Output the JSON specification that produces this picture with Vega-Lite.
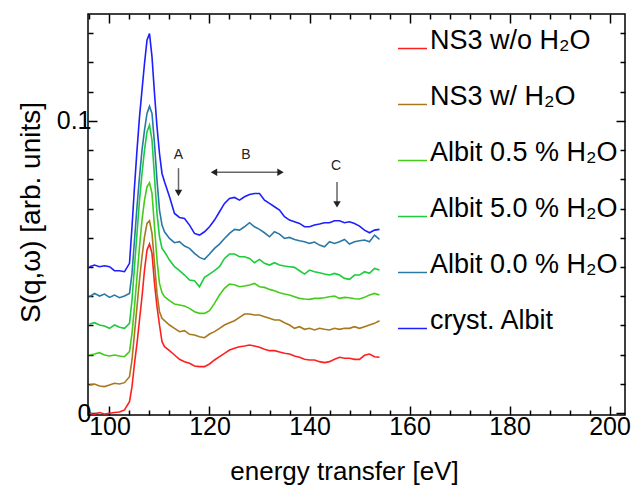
{
  "$schema": "https://vega.github.io/schema/vega-lite/v6.json",
  "width": 537,
  "height": 401,
  "autosize": "none",
  "padding": {"left": 88, "top": 14, "right": 18, "bottom": 75},
  "background": "white",
  "config": {
    "view": {"stroke": "black", "strokeWidth": 1.5},
    "font": "Liberation Sans"
  },
  "datasets": {
    "curves": [
      {"E":96,"a":0.0,"b":0.00966,"c":0.01992,"d":0.03051,"e":0.03984,"f":0.0501},
      {"E":97,"a":-0.00034,"b":0.01001,"c":0.02026,"d":0.03096,"e":0.04098,"f":0.05067},
      {"E":98,"a":0.00023,"b":0.00932,"c":0.02071,"d":0.03017,"e":0.04007,"f":0.0501},
      {"E":99,"a":-0.00023,"b":0.0091,"c":0.01992,"d":0.02982,"e":0.04076,"f":0.05044},
      {"E":100,"a":0.0,"b":0.00966,"c":0.01957,"d":0.02903,"e":0.03962,"f":0.0501},
      {"E":101,"a":0.00023,"b":0.01023,"c":0.01992,"d":0.03017,"e":0.04041,"f":0.04873},
      {"E":102,"a":0.00045,"b":0.01001,"c":0.01957,"d":0.02937,"e":0.0395,"f":0.04873},
      {"E":103,"a":0.00113,"b":0.01046,"c":0.01934,"d":0.02903,"e":0.04007,"f":0.04839},
      {"E":104,"a":0.00397,"b":0.01251,"c":0.02105,"d":0.03073,"e":0.04098,"f":0.05124},
      {"E":104.5,"a":0.0091,"b":0.01821,"c":0.02732,"d":0.03871,"e":0.04782,"f":0.06376},
      {"E":105,"a":0.01707,"b":0.02732,"c":0.03643,"d":0.0501,"e":0.05921,"f":0.07743},
      {"E":105.5,"a":0.0239,"b":0.03643,"c":0.04668,"d":0.06148,"e":0.07059,"f":0.08995},
      {"E":106,"a":0.03187,"b":0.04554,"c":0.05693,"d":0.07287,"e":0.08084,"f":0.10134},
      {"E":106.5,"a":0.03984,"b":0.05351,"c":0.06604,"d":0.08198,"e":0.08995,"f":0.11045},
      {"E":107,"a":0.04896,"b":0.06034,"c":0.07287,"d":0.08995,"e":0.09679,"f":0.11956},
      {"E":107.5,"a":0.05579,"b":0.0649,"c":0.07743,"d":0.09622,"e":0.10248,"f":0.12753},
      {"E":108,"a":0.05784,"b":0.06581,"c":0.07879,"d":0.09849,"e":0.10499,"f":0.12981},
      {"E":108.5,"a":0.05465,"b":0.06148,"c":0.07515,"d":0.09337,"e":0.10248,"f":0.12184},
      {"E":109,"a":0.0444,"b":0.05124,"c":0.06376,"d":0.08084,"e":0.09223,"f":0.10931},
      {"E":109.5,"a":0.03643,"b":0.04098,"c":0.05237,"d":0.06832,"e":0.0797,"f":0.09793},
      {"E":110,"a":0.03017,"b":0.03472,"c":0.0444,"d":0.06034,"e":0.06946,"f":0.08881},
      {"E":110.5,"a":0.02447,"b":0.03244,"c":0.04121,"d":0.05636,"e":0.06433,"f":0.08198},
      {"E":111,"a":0.02276,"b":0.03165,"c":0.03984,"d":0.05522,"e":0.06205,"f":0.07913},
      {"E":112,"a":0.0214,"b":0.03017,"c":0.03848,"d":0.05237,"e":0.05977,"f":0.07401},
      {"E":113,"a":0.01992,"b":0.02903,"c":0.03734,"d":0.0501,"e":0.0583,"f":0.06832},
      {"E":114,"a":0.01843,"b":0.02789,"c":0.037,"d":0.04873,"e":0.05864,"f":0.06695},
      {"E":115,"a":0.01764,"b":0.02823,"c":0.03666,"d":0.04725,"e":0.05716,"f":0.06661},
      {"E":116,"a":0.01707,"b":0.02698,"c":0.03586,"d":0.04554,"e":0.05636,"f":0.06433},
      {"E":117,"a":0.01616,"b":0.02675,"c":0.03472,"d":0.04531,"e":0.05465,"f":0.06148},
      {"E":118,"a":0.01593,"b":0.02618,"c":0.03415,"d":0.04326,"e":0.05328,"f":0.06091},
      {"E":119,"a":0.01593,"b":0.02584,"c":0.03415,"d":0.04645,"e":0.0526,"f":0.06205},
      {"E":120,"a":0.01684,"b":0.02709,"c":0.03506,"d":0.04759,"e":0.05442,"f":0.06376},
      {"E":121,"a":0.01821,"b":0.02789,"c":0.03757,"d":0.04873,"e":0.05636,"f":0.06604},
      {"E":122,"a":0.01934,"b":0.02903,"c":0.04041,"d":0.0501,"e":0.05784,"f":0.06888},
      {"E":123,"a":0.02049,"b":0.03017,"c":0.04269,"d":0.05294,"e":0.05977,"f":0.07173},
      {"E":124,"a":0.02162,"b":0.03096,"c":0.04417,"d":0.05442,"e":0.06148,"f":0.07344},
      {"E":125,"a":0.02219,"b":0.03165,"c":0.04395,"d":0.05442,"e":0.06285,"f":0.07378},
      {"E":126,"a":0.02276,"b":0.03278,"c":0.04326,"d":0.05351,"e":0.06262,"f":0.07287},
      {"E":127,"a":0.02299,"b":0.03393,"c":0.04349,"d":0.05351,"e":0.06376,"f":0.07401},
      {"E":128,"a":0.02333,"b":0.03393,"c":0.04383,"d":0.05294,"e":0.06513,"f":0.07481},
      {"E":129,"a":0.02299,"b":0.03358,"c":0.0444,"d":0.05146,"e":0.06376,"f":0.07515},
      {"E":130,"a":0.02253,"b":0.03358,"c":0.04326,"d":0.0526,"e":0.06285,"f":0.07515},
      {"E":131,"a":0.02185,"b":0.03301,"c":0.04303,"d":0.05124,"e":0.06171,"f":0.07287},
      {"E":132,"a":0.0214,"b":0.03244,"c":0.04235,"d":0.05067,"e":0.06034,"f":0.07173},
      {"E":133,"a":0.0214,"b":0.03187,"c":0.0419,"d":0.05146,"e":0.06205,"f":0.07059},
      {"E":134,"a":0.02094,"b":0.03187,"c":0.04121,"d":0.05067,"e":0.06126,"f":0.06946},
      {"E":135,"a":0.02049,"b":0.03096,"c":0.04076,"d":0.05032,"e":0.05977,"f":0.06718},
      {"E":136,"a":0.02026,"b":0.03017,"c":0.04041,"d":0.0501,"e":0.06012,"f":0.06604},
      {"E":137,"a":0.01957,"b":0.02903,"c":0.03984,"d":0.04987,"e":0.05943,"f":0.06547},
      {"E":138,"a":0.01912,"b":0.0296,"c":0.03928,"d":0.04873,"e":0.05898,"f":0.0649},
      {"E":139,"a":0.01843,"b":0.02869,"c":0.03905,"d":0.04759,"e":0.05864,"f":0.06376},
      {"E":140,"a":0.01821,"b":0.02903,"c":0.03893,"d":0.04896,"e":0.05807,"f":0.06376},
      {"E":141,"a":0.01821,"b":0.02846,"c":0.03928,"d":0.04839,"e":0.05852,"f":0.06433},
      {"E":142,"a":0.01764,"b":0.02903,"c":0.03928,"d":0.04805,"e":0.0575,"f":0.06467},
      {"E":143,"a":0.0173,"b":0.02869,"c":0.0395,"d":0.04759,"e":0.05693,"f":0.06513},
      {"E":144,"a":0.01764,"b":0.02846,"c":0.03984,"d":0.04725,"e":0.05864,"f":0.06513},
      {"E":145,"a":0.01843,"b":0.02903,"c":0.04007,"d":0.04782,"e":0.05807,"f":0.06581},
      {"E":146,"a":0.01912,"b":0.02869,"c":0.03928,"d":0.04725,"e":0.05864,"f":0.06581},
      {"E":147,"a":0.01878,"b":0.02903,"c":0.03962,"d":0.04611,"e":0.05943,"f":0.06513},
      {"E":148,"a":0.01878,"b":0.02903,"c":0.0395,"d":0.04577,"e":0.05784,"f":0.06547},
      {"E":149,"a":0.01843,"b":0.0296,"c":0.03916,"d":0.04725,"e":0.05864,"f":0.0649},
      {"E":150,"a":0.01843,"b":0.02903,"c":0.03905,"d":0.04725,"e":0.05898,"f":0.06399},
      {"E":151,"a":0.0198,"b":0.0296,"c":0.03962,"d":0.04839,"e":0.05921,"f":0.06262},
      {"E":152,"a":0.02026,"b":0.03017,"c":0.04041,"d":0.04782,"e":0.05864,"f":0.06171},
      {"E":153,"a":0.01934,"b":0.03073,"c":0.04098,"d":0.04953,"e":0.06091,"f":0.06262},
      {"E":154,"a":0.01912,"b":0.03165,"c":0.04041,"d":0.04896,"e":0.05943,"f":0.06285}
    ],
    "names": [
      {"k":"a","name":"NS3 w/o H₂O"},
      {"k":"b","name":"NS3 w/ H₂O"},
      {"k":"c","name":"Albit 0.5 % H₂O"},
      {"k":"d","name":"Albit 5.0 % H₂O"},
      {"k":"e","name":"Albit 0.0 % H₂O"},
      {"k":"f","name":"cryst. Albit"}
    ],
    "notes": [
      {"E":113.8,"S":0.0882,"label":"A"},
      {"E":127.3,"S":0.0882,"label":"B"},
      {"E":145.3,"S":0.0846,"label":"C"}
    ],
    "arrows": [
      {"E":113.8,"E2":113.8,"S":0.0838,"S2":0.0755},
      {"E":121.0,"E2":134.0,"S":0.0824,"S2":0.0824},
      {"E":145.5,"E2":145.5,"S":0.0791,"S2":0.0716}
    ],
    "heads": [
      {"E":113.8,"S":0.0753,"shape":"triangle-down"},
      {"E":120.9,"S":0.0824,"shape":"triangle-left"},
      {"E":134.2,"S":0.0824,"shape":"triangle-right"},
      {"E":145.5,"S":0.0714,"shape":"triangle-down"}
    ]
  },
  "resolve": {"axis": {"x": "independent", "y": "independent"}},
  "layer": [
    {
      "data": {"name": "curves"},
      "transform": [
        {"fold": ["a","b","c","d","e","f"], "as": ["k","S"]},
        {"lookup": "k", "from": {"data": {"name": "names"}, "key": "k", "fields": ["name"]}}
      ],
      "mark": {"type": "line", "strokeWidth": 1.6, "clip": true},
      "encoding": {
        "x": {
          "field": "E", "type": "quantitative",
          "scale": {"domain": [95.7, 203.1], "nice": false, "zero": false},
          "axis": {
            "title": "energy transfer [eV]",
            "values": [96,100,104,108,112,116,120,124,128,132,136,140,144,148,152,156,160,164,168,172,176,180,184,188,192,196,200],
            "labelExpr": "datum.value % 20 === 0 ? datum.label : ''",
            "tickSize": {"condition": {"test": "datum.value % 20 === 0", "value": -9}, "value": -5},
            "tickColor": "black", "tickWidth": 1.5,
            "domain": false, "grid": false,
            "labelFont": "Liberation Sans", "labelFontSize": 25, "labelColor": "black",
            "labelPadding": 8, "labelFlush": false, "labelOverlap": false,
            "titleFont": "Liberation Sans", "titleFontSize": 26, "titleFontWeight": "normal", "titleColor": "black",
            "titleX": 256, "titleY": 64, "titleBaseline": "alphabetic", "titleAlign": "center", "titleAnchor": null
          }
        },
        "y": {
          "field": "S", "type": "quantitative",
          "scale": {"domain": [-0.0006, 0.1365], "nice": false, "zero": false},
          "axis": {
            "title": "S(q,ω) [arb. units]",
            "values": [0,0.01,0.02,0.03,0.04,0.05,0.06,0.07,0.08,0.09,0.1,0.11,0.12,0.13],
            "labelExpr": "datum.value === 0 ? '0' : (datum.value === 0.1 ? '0.1' : '')",
            "tickSize": {"condition": {"test": "datum.value === 0 || datum.value === 0.1", "value": -9}, "value": -5},
            "tickColor": "black", "tickWidth": 1.5,
            "domain": false, "grid": false,
            "labelFont": "Liberation Sans", "labelFontSize": 25, "labelColor": "black",
            "labelPadding": 6, "labelFlush": false, "labelOverlap": false,
            "titleFont": "Liberation Sans", "titleFontSize": 28, "titleFontWeight": "normal", "titleColor": "black",
            "titleAngle": -90, "titleX": -49, "titleY": 198, "titleBaseline": "alphabetic", "titleAlign": "center", "titleAnchor": null
          }
        },
        "color": {
          "field": "name", "type": "nominal",
          "scale": {
            "domain": ["NS3 w/o H₂O","NS3 w/ H₂O","Albit 0.5 % H₂O","Albit 5.0 % H₂O","Albit 0.0 % H₂O","cryst. Albit"],
            "range": ["#ff1f1f","#a8781e","#44cc1a","#1ccc3c","#2a78a8","#1e1eff"]
          },
          "legend": {
            "orient": "none", "legendX": 309, "legendY": 19, "title": null,
            "symbolType": "stroke", "symbolSize": 841, "symbolStrokeWidth": 1.5,
            "labelFont": "Liberation Sans", "labelFontSize": 27, "labelColor": "black",
            "labelBaseline": "alphabetic", "labelOffset": 2, "labelLimit": 300,
            "rowPadding": 28, "padding": 0
          }
        }
      }
    },
    {
      "data": {"name": "notes"},
      "mark": {"type": "text", "fontSize": 14, "color": "#222", "font": "Liberation Sans"},
      "encoding": {
        "x": {
          "field": "E", "type": "quantitative",
          "scale": {"domain": [95.7, 203.1], "nice": false, "zero": false},
          "axis": {
            "orient": "top", "title": null, "labels": false, "domain": false, "grid": false,
            "values": [96,100,104,108,112,116,120,124,128,132,136,140,144,148,152,156,160,164,168,172,176,180,184,188,192,196,200],
            "tickSize": {"condition": {"test": "datum.value % 20 === 0", "value": -9}, "value": -5},
            "tickColor": "black", "tickWidth": 1.5
          }
        },
        "y": {
          "field": "S", "type": "quantitative",
          "scale": {"domain": [-0.0006, 0.1365], "nice": false, "zero": false},
          "axis": {
            "orient": "right", "title": null, "labels": false, "domain": false, "grid": false,
            "values": [0,0.01,0.02,0.03,0.04,0.05,0.06,0.07,0.08,0.09,0.1,0.11,0.12,0.13],
            "tickSize": {"condition": {"test": "datum.value === 0 || datum.value === 0.1", "value": -9}, "value": -5},
            "tickColor": "black", "tickWidth": 1.5
          }
        },
        "text": {"field": "label", "type": "nominal"}
      }
    },
    {
      "data": {"name": "arrows"},
      "mark": {"type": "rule", "color": "#666", "strokeWidth": 1.5},
      "encoding": {
        "x": {"field": "E", "type": "quantitative", "scale": {"domain": [95.7, 203.1], "nice": false, "zero": false}, "axis": null},
        "x2": {"field": "E2"},
        "y": {"field": "S", "type": "quantitative", "scale": {"domain": [-0.0006, 0.1365], "nice": false, "zero": false}, "axis": null},
        "y2": {"field": "S2"}
      }
    },
    {
      "data": {"name": "heads"},
      "mark": {"type": "point", "filled": true, "color": "#222", "size": 55, "opacity": 1},
      "encoding": {
        "x": {"field": "E", "type": "quantitative", "scale": {"domain": [95.7, 203.1], "nice": false, "zero": false}, "axis": null},
        "y": {"field": "S", "type": "quantitative", "scale": {"domain": [-0.0006, 0.1365], "nice": false, "zero": false}, "axis": null},
        "shape": {"field": "shape", "type": "nominal", "scale": null}
      }
    }
  ]
}
